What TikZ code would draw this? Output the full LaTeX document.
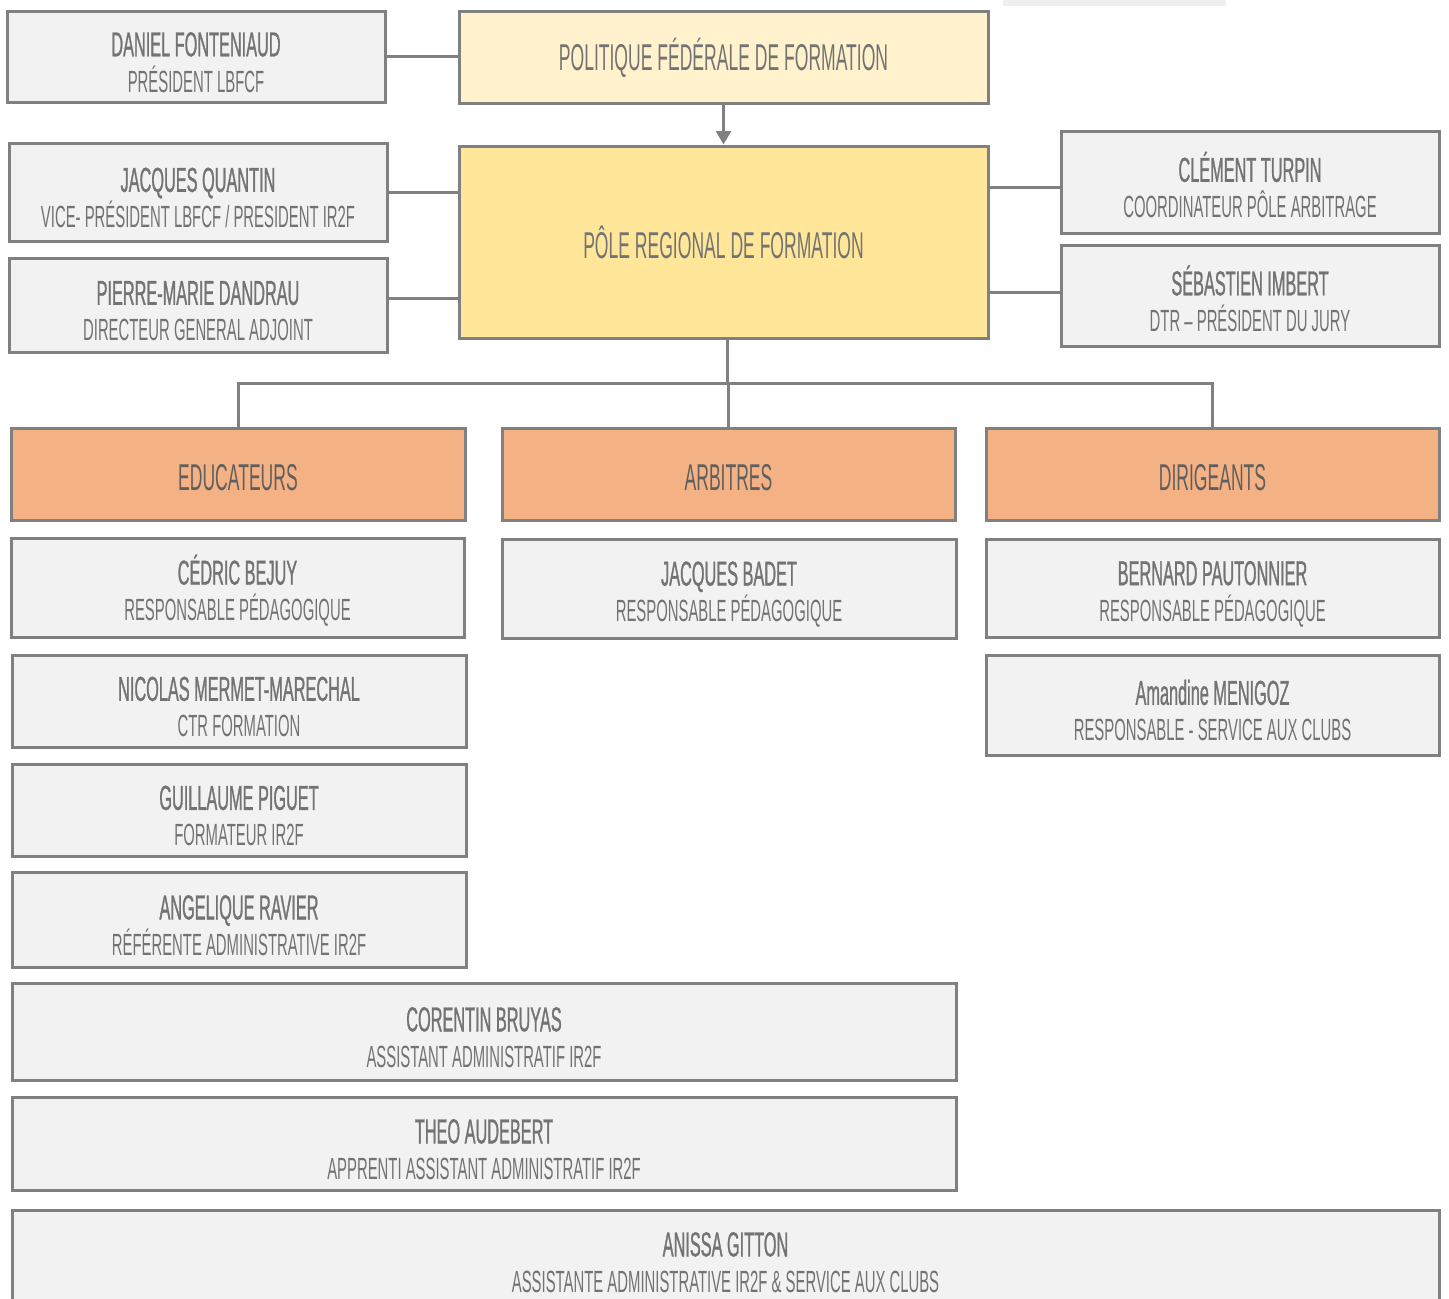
\documentclass[tikz,border=0pt]{standalone}
\usepackage{fontspec}
\usetikzlibrary{arrows.meta}
\newfontfamily\nmfont{Liberation Sans}[FakeStretch=0.47]
\newfontfamily\bnmfont{Liberation Sans}[FakeStretch=0.47, FakeBold=0.8]
\newfontfamily\sbfont{Liberation Sans}[FakeStretch=0.485]
\definecolor{bordergrey}{HTML}{808080}
\definecolor{boxgrey}{HTML}{F2F2F2}
\definecolor{textgrey}{HTML}{737373}
\definecolor{catgrey}{HTML}{5F5F5F}
\definecolor{lightyellow}{HTML}{FFF2CC}
\definecolor{midyellow}{HTML}{FFE699}
\definecolor{orangebox}{HTML}{F4B183}
\definecolor{topbar}{HTML}{EFEFEF}
\newcommand\namefont{\fontsize{26}{27}\selectfont\bnmfont}
\newcommand\subfont{\fontsize{23}{27}\selectfont\sbfont}
\newcommand\titlefont{\fontsize{28}{30}\selectfont\nmfont}
\tikzset{
  box/.style={draw=bordergrey, line width=2.25pt, fill=boxgrey, text=textgrey,
    align=center, inner sep=0pt, font=\fontsize{23}{27}\selectfont\nmfont},
  conn/.style={draw=bordergrey, line width=2.25pt},
}
% \pbox{name}{x1}{y1}{x2}{y2}{style}{text}
\newcommand\pbox[7]{%
  \node[box, #6, minimum width={(#4-#2)*0.75pt}, minimum height={(#5-#3)*0.75pt}]
    (#1) at ({(#2+#4)/2},{(#3+#5)/2}) {#7};}
\newcommand\ptxt[2]{{\namefont\rule{0pt}{27pt}#1}\\{\subfont #2}}
\newcommand\ttxt[1]{{\titlefont\rule{0pt}{24.5pt}#1}}
\begin{document}
\begin{tikzpicture}[x=0.75pt, y=-0.75pt]
\clip (0,0) rectangle (1449,1299);
\fill[white] (0,0) rectangle (1449,1299);
\fill[topbar] (1003,0) rectangle (1226,6);

\pbox{dan}{7}{11}{385}{102}{}{\ptxt{DANIEL FONTENIAUD}{PRÉSIDENT LBFCF}}
\pbox{pol}{459}{11}{988}{103}{fill=lightyellow}{{\titlefont\rule{0pt}{26pt}POLITIQUE FÉDÉRALE DE FORMATION}}
\pbox{pole}{459}{146}{988}{338}{fill=midyellow}{{\titlefont PÔLE REGIONAL DE FORMATION}}
\pbox{jq}{9}{143}{387}{241}{}{\ptxt{JACQUES QUANTIN}{VICE- PRÉSIDENT LBFCF / PRESIDENT IR2F}}
\pbox{pm}{9}{258}{387}{352}{}{\ptxt{PIERRE-MARIE DANDRAU}{DIRECTEUR GENERAL ADJOINT}}
\pbox{ct}{1061}{131}{1439}{233}{}{\ptxt{CLÉMENT TURPIN}{COORDINATEUR PÔLE ARBITRAGE}}
\pbox{si}{1061}{245}{1439}{346}{}{\ptxt{SÉBASTIEN IMBERT}{DTR – PRÉSIDENT DU JURY}}

\pbox{edu}{11}{428}{465}{520}{fill=orangebox, text=catgrey}{\ttxt{EDUCATEURS}}
\pbox{arb}{502}{428}{955}{520}{fill=orangebox, text=catgrey}{\ttxt{ARBITRES}}
\pbox{dir}{986}{428}{1439}{520}{fill=orangebox, text=catgrey}{\ttxt{DIRIGEANTS}}

\pbox{cb}{11}{538}{464}{637}{}{\ptxt{CÉDRIC BEJUY}{RESPONSABLE PÉDAGOGIQUE}}
\pbox{jb}{502}{539}{956}{638}{}{\ptxt{JACQUES BADET}{RESPONSABLE PÉDAGOGIQUE}}
\pbox{bp}{986}{539}{1439}{637}{}{\ptxt{BERNARD PAUTONNIER}{RESPONSABLE PÉDAGOGIQUE}}
\pbox{nm}{12}{655}{466}{747}{}{\ptxt{NICOLAS MERMET-MARECHAL}{CTR FORMATION}}
\pbox{am}{986}{655}{1439}{755}{}{\ptxt{Amandine MENIGOZ}{RESPONSABLE - SERVICE AUX CLUBS}}
\pbox{gp}{12}{764}{466}{856}{}{\ptxt{GUILLAUME PIGUET}{FORMATEUR IR2F}}
\pbox{ar}{12}{872}{466}{967}{}{\ptxt{ANGELIQUE RAVIER}{RÉFÉRENTE ADMINISTRATIVE IR2F}}
\pbox{cbr}{12}{983}{956}{1080}{}{\ptxt{CORENTIN BRUYAS}{ASSISTANT ADMINISTRATIF IR2F}}
\pbox{ta}{12}{1097}{956}{1190}{}{\ptxt{THEO AUDEBERT}{APPRENTI ASSISTANT ADMINISTRATIF IR2F}}
\pbox{ag}{12}{1210}{1439}{1303}{}{\ptxt{ANISSA GITTON}{ASSISTANTE ADMINISTRATIVE IR2F \& SERVICE AUX CLUBS}}

% connectors
\draw[conn] (dan.east) -- (dan.east -| pol.west);
\draw[conn, -{Triangle[length=10pt, width=11pt]}] (pol.south) -- (pole.north);
\draw[conn] (jq.east) -- (jq.east -| pole.west);
\draw[conn] ([yshift=5.25pt]pm.east) -- ([yshift=5.25pt]pm.east -| pole.west);
\draw[conn] ([yshift=-3.75pt]ct.west) -- ([yshift=-3.75pt]ct.west -| pole.east);
\draw[conn] ([yshift=2.6pt]si.west) -- ([yshift=2.6pt]si.west -| pole.east);
\coordinate (j) at (727,383);
\draw[conn] (pole.south -| j) -- (j);
\draw[conn] (edu.north) |- (j) -| (dir.north);
\draw[conn] (j) -- (j -| arb.north) -- (arb.north);
\end{tikzpicture}
\end{document}
